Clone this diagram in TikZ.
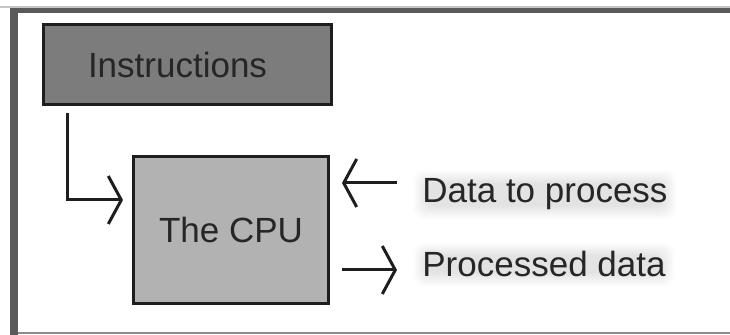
\documentclass[tikz,border=0pt]{standalone}
\usepackage{fontspec}
\setmainfont{Liberation Sans}
\usetikzlibrary{arrows.meta}
\definecolor{txt}{HTML}{262626}
\definecolor{edge}{HTML}{1E1E1E}
\definecolor{dark}{HTML}{7C7C7C}
\definecolor{light}{HTML}{B2B2B2}
\definecolor{framec}{HTML}{5A5A5A}
\pgfdeclarelayer{bg}
\pgfsetlayers{bg,main}
\tikzset{
  box/.style={draw=edge, line width=1.5pt, inner sep=0pt, text=txt,
    font=\fontsize{17.5pt}{20pt}\selectfont},
  lbl/.style={inner sep=0pt, text=txt, font=\fontsize{17.5pt}{20pt}\selectfont},
  conn/.style={draw=edge, line width=1.5pt,
    -{Straight Barb[length=6.5pt,width=24pt,line width=1.5pt]}},
  glow/.style={fill=black, opacity=0.016, rounded corners=5pt}
}
\begin{document}
\begin{tikzpicture}[x=0.5pt,y=-0.5pt]
\useasboundingbox (0,0) rectangle (730,335);
% boxes
\node[box, fill=dark, minimum width=144pt, minimum height=40pt] (instr) at (187,65) {Instructions\hspace*{9.5pt}};
\node[box, fill=light, minimum width=97.5pt, minimum height=73.5pt] (cpu) at (231,230) {The CPU};
% labels
\node[lbl, anchor=base west] (dtext) at (422,203) {Data to process};
\node[lbl, anchor=base west] (ptext) at (422,277) {Processed data};
\begin{pgfonlayer}{bg}
\fill[white] (0,0) rectangle (730,335);
\fill[black!22] (0,6) rectangle (730,8);
\fill[framec] (10,8) rectangle (730,13);
\fill[framec] (10,8) rectangle (18,335);
\fill[black!45] (18,332.5) rectangle (730,334);
\foreach \d in {-2,-1,0,1,2,3,4}{
  \fill[glow] ([shift={(-\d pt,\d pt)}]dtext.north west) rectangle ([shift={(\d pt,-\d pt)}]dtext.south east);
  \fill[glow] ([shift={(-\d pt,\d pt)}]ptext.north west) rectangle ([shift={(\d pt,-\d pt)}]ptext.south east);
}
\end{pgfonlayer}
% connectors
\draw[conn] ([xshift=13pt,yshift=-3.5pt]instr.south west) |- ([xshift=-4.5pt,yshift=15pt]cpu.west);
\draw[conn] ([xshift=-12.5pt,yshift=10pt]dtext.base west) -- ++(-55,0);
\draw[conn] ([xshift=-40pt,yshift=3.5pt]ptext.base west) -- ([xshift=-12.5pt,yshift=3.5pt]ptext.base west);
\end{tikzpicture}
\end{document}
